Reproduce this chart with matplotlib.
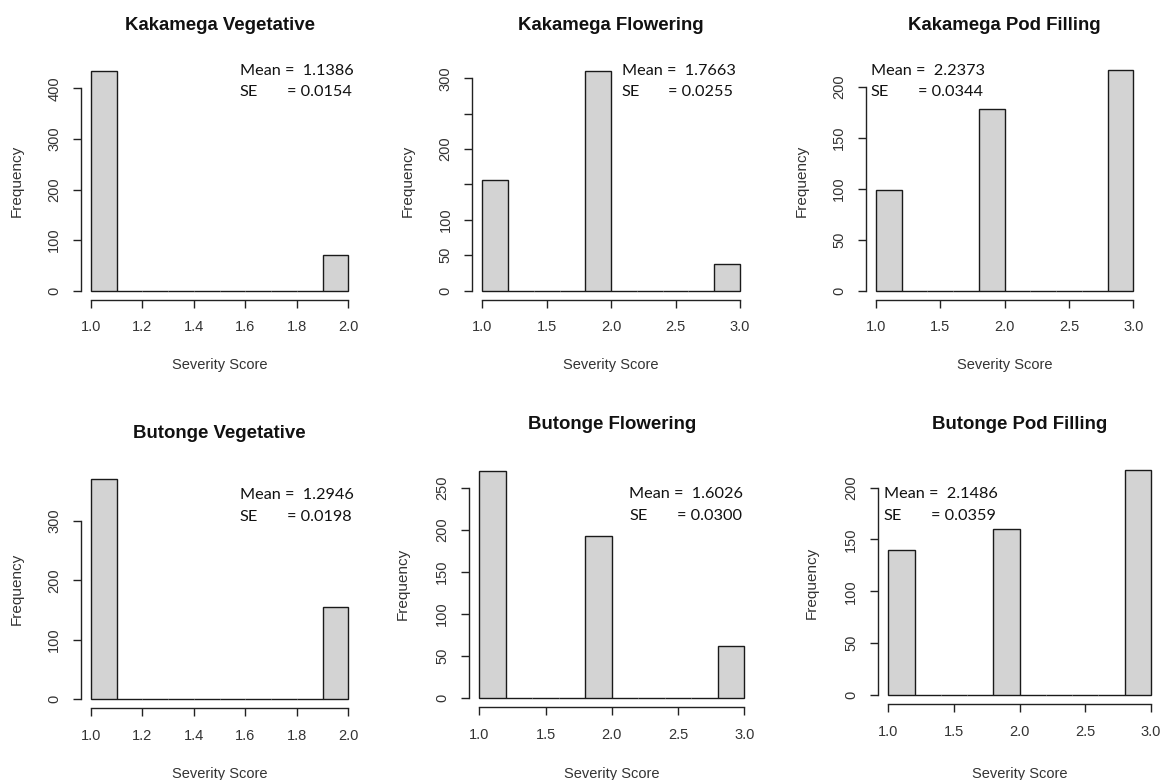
import numpy as np
import matplotlib.pyplot as plt

W, H = 1165, 780

# frequency of each severity score, per site and growth stage
scores_veg = [1, 2]
scores_rep = [1, 2, 3]
kakamega_vegetative = [435, 70]
kakamega_flowering = [156, 311, 38]
kakamega_pod_filling = [99, 178, 216]
butonge_vegetative = [371, 155]
butonge_flowering = [271, 193, 62]
butonge_pod_filling = [140, 160, 217]

titles = ["Kakamega Vegetative", "Kakamega Flowering", "Kakamega Pod Filling",
          "Butonge Vegetative", "Butonge Flowering", "Butonge Pod Filling"]
means = ["1.1386", "1.7663", "2.2373", "1.2946", "1.6026", "2.1486"]
ses = ["0.0154", "0.0255", "0.0344", "0.0198", "0.0300", "0.0359"]

veg_edges = np.round(np.linspace(1, 2, 11), 6)
rep_edges = np.round(np.linspace(1, 3, 11), 6)
veg_xticks = [1.0, 1.2, 1.4, 1.6, 1.8, 2.0]
rep_xticks = [1.0, 1.5, 2.0, 2.5, 3.0]

panels = [
    (scores_veg, kakamega_vegetative, veg_edges, veg_xticks, [0, 100, 200, 300, 400], None),
    (scores_rep, kakamega_flowering, rep_edges, rep_xticks, [0, 50, 100, 150, 200, 250, 300], [150, 250]),
    (scores_rep, kakamega_pod_filling, rep_edges, rep_xticks, [0, 50, 100, 150, 200], None),
    (scores_veg, butonge_vegetative, veg_edges, veg_xticks, [0, 100, 200, 300], None),
    (scores_rep, butonge_flowering, rep_edges, rep_xticks, [0, 50, 100, 150, 200, 250], None),
    (scores_rep, butonge_pod_filling, rep_edges, rep_xticks, [0, 50, 100, 150, 200], None),
]

# pixel layout: plot box (left, right, top, bottom), title y, ylabel x, xlabel y,
# stats text x, line1 y, line2 y, x of "=" on the SE line
layout = [
    ((80.7, 358.6, 61.8, 299.5), 25, 17, 365, 240, 70.7, 91.7, 287),
    ((472.0, 750.3, 61.7, 299.5), 25, 408, 365, 621.7, 70.7, 91.7, 668.3),
    ((865.7, 1143.6, 61.6, 299.5), 25, 801.7, 365, 870.7, 70.7, 91.7, 918.3),
    ((80.7, 358.6, 470.1, 708.1), 433, 17, 774, 240, 495, 516.7, 287.3),
    ((468.7, 754.9, 461.5, 706.8), 425, 403, 774, 629.3, 494.3, 515.7, 677.3),
    ((877.8, 1161.5, 461.0, 704.0), 425, 811.7, 774, 884, 494.3, 515.7, 931),
]


def bin_heights(scores, counts, edges):
    # right-closed bins, lowest value included in the first bin
    heights = np.zeros(len(edges) - 1)
    for s, c in zip(scores, counts):
        i = np.searchsorted(edges, s, side="left") - 1
        heights[max(i, 0)] += c
    return heights


def fx(px):
    return px / W


def fy(py):
    return 1 - py / H


plt.rcParams["font.family"] = ["Liberation Sans", "DejaVu Sans"]
fig = plt.figure(figsize=(W / 100, H / 100), dpi=100)

axis_col = "#222222"
for (scores, counts, edges, xticks, yticks, hide), lay, title, m, se in zip(panels, layout, titles, means, ses):
    (l, r, t, b), ty, ylx, xly, tx, ty1, ty2, eqx = lay
    ax = fig.add_axes([fx(l), fy(b), fx(r) - fx(l), fy(t) - fy(b)])
    heights = bin_heights(scores, counts, edges)
    ax.bar(edges[:-1], heights, width=np.diff(edges), align="edge",
           color="#d3d3d3", edgecolor="#1a1a1a", linewidth=1.0)

    x0, x1 = edges[0], edges[-1]
    span = x1 - x0
    ymax = heights.max()
    ax.set_xlim(x0 - 0.04 * span, x1 + 0.04 * span)
    ax.set_ylim(-0.04 * ymax, 1.04 * ymax)

    for side in ["top", "right"]:
        ax.spines[side].set_visible(False)
    ax.spines["bottom"].set_bounds(xticks[0], xticks[-1])
    ax.spines["left"].set_bounds(yticks[0], yticks[-1])
    for side in ["bottom", "left"]:
        ax.spines[side].set_color(axis_col)
        ax.spines[side].set_linewidth(1.0)

    ax.set_xticks(xticks)
    ax.set_xticklabels([f"{v:.1f}" for v in xticks])
    ax.set_yticks(yticks)
    ax.set_yticklabels(["" if (hide and v in hide) else str(v) for v in yticks],
                       rotation=90, va="center")
    ax.tick_params(length=5.5, width=1.0, color=axis_col, labelsize=10.5,
                   labelcolor="#333333")
    ax.tick_params(axis="x", pad=9.5)
    ax.tick_params(axis="y", pad=8.5)

    w = r - l
    h = b - t
    ax.set_ylabel("Frequency", fontsize=11, color="#333333", va="center")
    ax.yaxis.set_label_coords((ylx - l) / w, 0.5)
    ax.set_xlabel("Severity Score", fontsize=10.5, color="#333333", va="center")
    ax.xaxis.set_label_coords(0.5, (b - xly) / h)

    fig.text(fx((l + r) / 2), fy(ty), title, fontsize=13.4, fontweight="bold",
             ha="center", va="center", color="#111111")

    stat_kw = dict(fontsize=11.7, family=["Lato", "DejaVu Sans"], va="center", color="#111111")
    fig.text(fx(tx), fy(ty1), f"Mean =  {m}", **stat_kw)
    fig.text(fx(tx), fy(ty2), "SE", **stat_kw)
    fig.text(fx(eqx), fy(ty2), f"= {se}", **stat_kw)

fig.savefig("out.png", dpi=100)
